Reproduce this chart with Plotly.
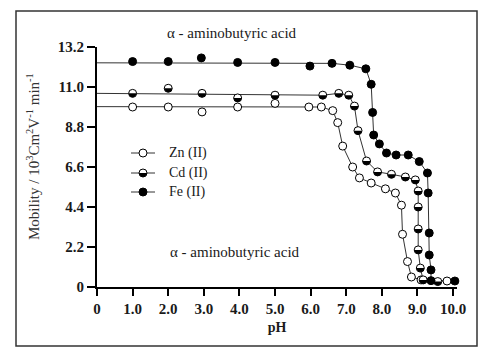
import plotly.graph_objects as go

# ---------------- data ----------------
zn_ph = [1.0, 2.0, 2.95, 3.95, 5.0, 5.95, 6.3, 6.62, 6.76, 6.9, 7.18, 7.37, 7.7, 8.1, 8.38, 8.55, 8.58, 8.72, 8.83, 9.1, 9.83]
zn_mob = [9.9, 9.9, 9.63, 9.9, 10.1, 9.9, 9.9, 9.7, 9.04, 7.75, 6.6, 6.0, 5.72, 5.4, 5.17, 4.5, 2.9, 1.4, 0.55, 0.39, 0.33]
zn_flat = 9.92

cd_ph = [1.0, 2.0, 2.95, 3.95, 5.0, 6.34, 6.79, 7.07, 7.23, 7.33, 7.57, 7.88, 8.27, 8.66, 8.94, 9.02, 9.02, 9.02, 9.02, 9.08, 9.16, 9.57]
cd_mob = [10.65, 10.93, 10.65, 10.4, 10.55, 10.55, 10.65, 10.55, 9.95, 8.6, 6.93, 6.33, 6.2, 6.05, 5.89, 5.28, 4.4, 3.19, 2.04, 1.04, 0.39, 0.3]
cd_flat = 10.65

fe_ph = [1.0, 2.0, 2.93, 3.95, 5.0, 5.98, 6.6, 7.1, 7.55, 7.7, 7.74, 7.77, 7.93, 8.13, 8.4, 8.74, 9.05, 9.28, 9.3, 9.33, 9.33, 9.38, 9.38, 10.05]
fe_mob = [12.4, 12.4, 12.6, 12.35, 12.35, 12.15, 12.3, 12.2, 12.0, 11.15, 9.6, 8.36, 7.87, 7.37, 7.26, 7.26, 6.9, 6.27, 5.17, 2.97, 1.76, 0.94, 0.35, 0.33]
fe_flat = 12.33

x_ticks = [0, 1, 2, 3, 4, 5, 6, 7, 8, 9, 10]
x_labels = ["0", "1.0", "2.0", "3.0", "4.0", "5.0", "6.0", "7.0", "8.0", "9.0", "10.0"]
y_ticks = [0, 2.2, 4.4, 6.6, 8.8, 11.0, 13.2]
y_labels = ["0", "2.2", "4.4", "6.6", "8.8", "11.0", "13.2"]

title_text = "α - aminobutyric acid"
names = ["Zn (II)", "Cd (II)", "Fe (II)"]

# ---------------- figure ----------------
SERIF = "Liberation Serif, Times New Roman, serif"
INK = "#1a1a1a"
MS = 8
R = 4.0
L, T, PW, PH = 97, 47, 360, 240


def px(xp):
    return (xp - L) / PW


def py(yp):
    return (T + PH - yp) / PH


fig = go.Figure()

series = [
    (zn_ph, zn_mob, zn_flat, 5, "white"),
    (cd_ph, cd_mob, cd_flat, 5, "white"),
    (fe_ph, fe_mob, fe_flat, 6, "black"),
]

for (ph, mob, flat, k, fill), name in zip(series, names):
    fig.add_trace(go.Scatter(
        x=[0] + ph[k:], y=[flat] + mob[k:], mode="lines",
        line=dict(color="#333333", width=1), showlegend=False, hoverinfo="skip"))

for (ph, mob, flat, k, fill), name in zip(series, names):
    fig.add_trace(go.Scatter(
        x=ph, y=mob, mode="markers", cliponaxis=False, showlegend=False, name=name,
        marker=dict(size=MS, color=fill, line=dict(color="black", width=1))))

# half-filled (lower half black) marker path in pixels
kk = 0.5523 * R
half_path = (f"M {-R},0 C {-R},{-kk} {-kk},{-R} 0,{-R} "
             f"C {kk},{-R} {R},{-kk} {R},0 Z")
for xv, yv in zip(cd_ph, cd_mob):
    fig.add_shape(type="path", xref="x", yref="y", xsizemode="pixel", ysizemode="pixel",
                  xanchor=xv, yanchor=yv, path=half_path,
                  fillcolor="black", line=dict(width=0), layer="above")

# manual legend
leg_fills = ["white", "white", "black"]
leg_y = [153, 173, 192]
for name, fill, yy in zip(names, leg_fills, leg_y):
    fig.add_shape(type="line", xref="paper", yref="paper",
                  x0=px(131), x1=px(155), y0=py(yy), y1=py(yy),
                  line=dict(color="#333333", width=1), layer="above")
    fig.add_shape(type="circle", xref="paper", yref="paper",
                  xsizemode="pixel", ysizemode="pixel",
                  xanchor=px(143), yanchor=py(yy), x0=-R, x1=R, y0=-R, y1=R,
                  fillcolor=fill, line=dict(color="black", width=1), layer="above")
    fig.add_annotation(text=name, xref="paper", yref="paper", x=px(167), y=py(yy),
                       xanchor="left", yanchor="middle", showarrow=False,
                       font=dict(family=SERIF, size=14, color=INK))
fig.add_shape(type="path", xref="paper", yref="paper", xsizemode="pixel", ysizemode="pixel",
              xanchor=px(143), yanchor=py(leg_y[1]), path=half_path,
              fillcolor="black", line=dict(width=0), layer="above")

# outer frame
fig.add_shape(type="rect", xref="paper", yref="paper",
              x0=px(16), x1=px(477), y0=py(346), y1=py(11),
              line=dict(color="#333333", width=1.5), layer="below")

fig.add_annotation(text=title_text, xref="paper", yref="paper",
                   x=px(232), y=py(33), xanchor="center", yanchor="middle", showarrow=False,
                   font=dict(family=SERIF, size=15, color=INK))
fig.add_annotation(text=title_text, xref="paper", yref="paper",
                   x=px(235), y=py(252), xanchor="center", yanchor="middle", showarrow=False,
                   font=dict(family=SERIF, size=15, color=INK))
fig.add_annotation(text="Mobility / 10<sup>3</sup>Cm<sup>2</sup>V<sup>-1</sup> min<sup>-1</sup>",
                   xref="paper", yref="paper", textangle=-90,
                   x=px(33), y=py(157), xanchor="center", yanchor="middle", showarrow=False,
                   font=dict(family=SERIF, size=15, color="#333333"))

fig.update_layout(
    template="none",
    width=492, height=357,
    margin=dict(l=L, r=492 - L - PW, t=T, b=357 - T - PH, pad=0),
    paper_bgcolor="white", plot_bgcolor="white",
    font=dict(family=SERIF, color=INK),
    showlegend=False,
    xaxis=dict(range=[0, 10.11], tickvals=x_ticks, ticktext=x_labels, automargin=False,
               showgrid=False, zeroline=False, showline=True, linecolor="black", linewidth=2,
               ticks="outside", ticklen=7, tickwidth=2, tickcolor="black",
               tickfont=dict(family=SERIF, size=15, color=INK, weight="bold"),
               title=dict(text="<b>pH</b>", font=dict(family=SERIF, size=14, color=INK), standoff=6)),
    yaxis=dict(range=[0, 13.2], tickvals=y_ticks, ticktext=y_labels, automargin=False,
               showgrid=False, zeroline=False, showline=True, linecolor="black", linewidth=2,
               ticks="outside", ticklen=8, tickwidth=2, tickcolor="black",
               tickfont=dict(family=SERIF, size=15, color=INK, weight="bold")),
)

fig.write_html("out.html", config={"displayModeBar": False},
               post_script="document.body.style.margin='0';")
